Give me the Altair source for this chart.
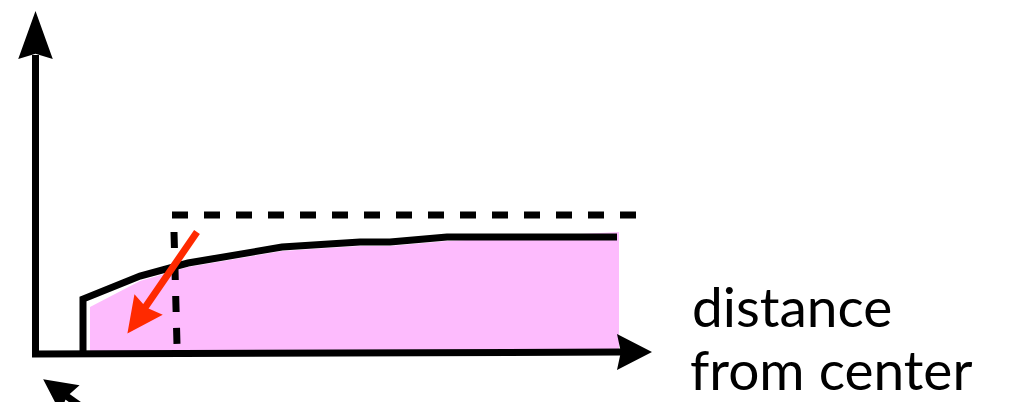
import altair as alt
import pandas as pd

# data space mirrors the picture's pixel grid (y grows downward)
X_DOMAIN = [8, 1023]
Y_DOMAIN = [8, 402]

# axes (one polyline: up the y axis, corner, along the x axis)
axis_x = [35.5, 35.5, 622]
axis_y = [55, 354, 352]

# black profile curve
curve_x = [83, 83, 140, 188, 282, 360, 390, 447, 617]
curve_y = [352, 299, 276, 263, 247, 242, 242, 237, 237]

# pink filled region under the curve
fill_x = [90, 140, 188, 282, 360, 390, 447, 619]
fill_y = [307, 281, 267, 251, 246, 246, 241, 232]
fill_base = [352] * len(fill_x)

# dashed guide lines
dash_h_x = [172, 636]
dash_h_y = [215, 215]
dash_v_x = [174, 177]
dash_v_y = [232, 345]

# red arrow shaft
red_x = [197, 142]
red_y = [232, 312]

# bottom-left black arrow shaft
bl_x = [58, 124]
bl_y = [390, 437]

# arrow heads: centre x, centre y, size, angle, colour, half-width ratio
head_x = [35.5, 634.5, 138, 56.5]
head_y = [35, 352, 319, 389]
head_size = [2304, 1225, 1300, 1089]
head_angle = [0, 90, 216, 306]
head_color = ["black", "black", "#FF2A00", "black"]
head_ratio = [0.72, 1.03, 0.97, 1.0]

# label lines and their anchor points
label_lines = ["distance", "from center"]
label_x = [692, 690]
label_y = [327, 390]

xs = alt.Scale(domain=X_DOMAIN, nice=False, zero=False)
ys = alt.Scale(domain=Y_DOMAIN, reverse=True, nice=False, zero=False)


def poly(xv, yv):
    return pd.DataFrame({"x": xv, "y": yv, "i": list(range(len(xv)))})


def enc(ch):
    return ch.encode(
        x=alt.X("x:Q", scale=xs, axis=None),
        y=alt.Y("y:Q", scale=ys, axis=None),
    )


def line_layer(df, color, width, dash=None, cap="butt"):
    kw = dict(color=color, strokeWidth=width, strokeCap=cap, strokeJoin="miter", clip=False)
    if dash:
        kw["strokeDash"] = dash
    return enc(alt.Chart(df).mark_line(**kw)).encode(order=alt.Order("i:Q"))


fill_df = pd.DataFrame({"x": fill_x, "y": fill_y, "y2": fill_base})
fill = alt.Chart(fill_df).mark_area(color="#FDBBFD", opacity=1).encode(
    x=alt.X("x:Q", scale=xs, axis=None),
    y=alt.Y("y:Q", scale=ys, axis=None),
    y2="y2:Q",
)

layers = [
    fill,
    line_layer(poly(curve_x, curve_y), "black", 7),
    line_layer(poly(dash_h_x, dash_h_y), "black", 7, dash=[16, 16]),
    line_layer(poly(dash_v_x, dash_v_y), "black", 7, dash=[16, 16]),
    line_layer(poly(axis_x, axis_y), "black", 7),
    line_layer(poly(red_x, red_y), "#FF2A00", 7),
    line_layer(poly(bl_x, bl_y), "black", 7),
]

for hx, hy, hs, ha, hc, hr in zip(head_x, head_y, head_size, head_angle, head_color, head_ratio):
    path = f"M0,-1L{hr},1L0,0.78L{-hr},1Z"
    df = pd.DataFrame({"x": [hx], "y": [hy]})
    layers.append(
        enc(
            alt.Chart(df).mark_point(
                shape=path, filled=True, opacity=1, size=hs, angle=ha,
                color=hc, strokeWidth=0,
            )
        )
    )

text_df = pd.DataFrame({"x": label_x, "y": label_y, "t": label_lines})
layers.append(
    enc(
        alt.Chart(text_df).mark_text(
            align="left", baseline="alphabetic", font="Lato", fontSize=55, color="black"
        )
    ).encode(text="t:N")
)

chart = (
    alt.layer(*layers)
    .properties(width=1015, height=394, autosize="none", padding=0, background="white")
    .configure_view(stroke=None)
)

chart.save("out.html", embed_options={"renderer": "svg", "actions": False})
